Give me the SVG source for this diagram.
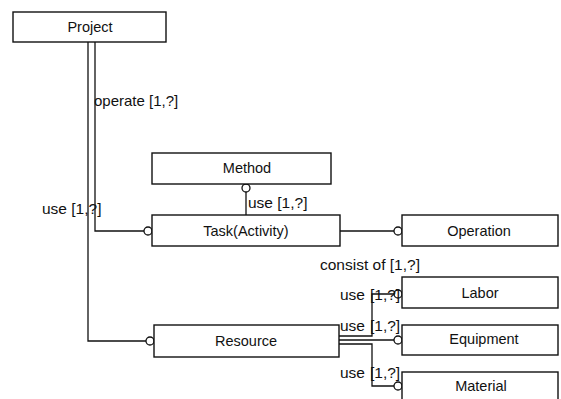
<svg xmlns="http://www.w3.org/2000/svg" width="561" height="399" viewBox="0 0 561 399">
<style>
.box{fill:#fff;stroke:#111;stroke-width:1.4}
.t{font-family:"Liberation Sans",Arial,sans-serif;font-size:14.5px;fill:#111;text-anchor:middle;dominant-baseline:central}
.l{font-family:"Liberation Sans",Arial,sans-serif;font-size:15.5px;fill:#111;dominant-baseline:central}
.c{fill:none;stroke:#111;stroke-width:1.3}
.o{fill:#fff;stroke:#111;stroke-width:1.3}
</style>
<rect width="561" height="399" fill="#fff"/>
<g id="connectors">
<polyline class="c" points="95,42 95,231 144,231"/>
<polyline class="c" points="88,42 88,341 146,341"/>
<line class="c" x1="246" y1="192" x2="246" y2="215"/>
<line class="c" x1="340" y1="231" x2="394" y2="231"/>
<polyline class="c" points="339,336 372,336 372,294 394,294"/>
<line class="c" x1="339" y1="340" x2="394" y2="340"/>
<polyline class="c" points="339,344 372,344 372,386 394,386"/>
<circle class="o" cx="148" cy="231" r="4"/>
<circle class="o" cx="150" cy="341" r="4"/>
<circle class="o" cx="246" cy="188" r="4"/>
<circle class="o" cx="398" cy="231" r="4"/>
<circle class="o" cx="398" cy="294" r="4"/>
<circle class="o" cx="398" cy="340" r="4"/>
<circle class="o" cx="398" cy="386" r="4"/>
<text class="l" x="94" y="100" style="font-size:15px">operate [1,?]</text>
<text class="l" x="42" y="208">use [1,?]</text>
<text class="l" x="248" y="202">use [1,?]</text>
<text class="l" x="320" y="264">consist of [1,?]</text>
<text class="l" x="340" y="294">use</text>
<text class="l" x="370" y="294">[1,?]</text>
<text class="l" x="340" y="325">use</text>
<text class="l" x="370" y="325">[1,?]</text>
<text class="l" x="340" y="372">use</text>
<text class="l" x="370" y="372">[1,?]</text>
</g>
<g id="project"><rect class="box" x="13" y="12" width="153" height="30"/><text class="t" x="90" y="27">Project</text></g>
<g id="method"><rect class="box" x="152" y="153" width="179" height="31"/><text class="t" x="247" y="168">Method</text></g>
<g id="task"><rect class="box" x="152" y="215" width="188" height="31"/><text class="t" x="246" y="231">Task(Activity)</text></g>
<g id="operation"><rect class="box" x="402" y="215" width="156" height="31"/><text class="t" x="479" y="231">Operation</text></g>
<g id="labor"><rect class="box" x="402" y="277" width="156" height="31"/><text class="t" x="480" y="293">Labor</text></g>
<g id="equipment"><rect class="box" x="402" y="325" width="156" height="30"/><text class="t" x="484" y="339">Equipment</text></g>
<g id="material"><rect class="box" x="402" y="372" width="156" height="40"/><text class="t" x="481" y="386">Material</text></g>
<g id="resource"><rect class="box" x="154" y="325" width="185" height="32"/><text class="t" x="246" y="341">Resource</text></g>
</svg>
